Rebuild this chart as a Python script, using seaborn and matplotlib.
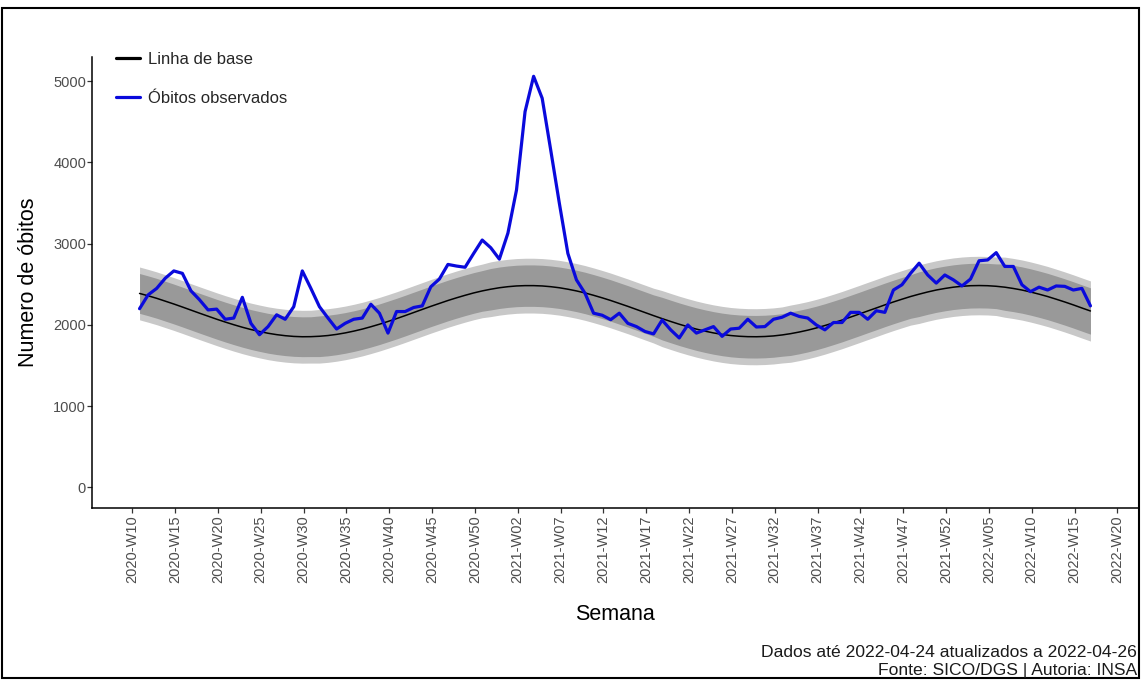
import matplotlib
matplotlib.use("Agg")
import matplotlib.pyplot as plt
from matplotlib.lines import Line2D
from matplotlib.patches import Rectangle
from datetime import datetime
import numpy as np
import pandas as pd
import seaborn as sns

# Weekly deaths, first week ends on Sunday 2020-03-08 (ISO 2020-W10)
first_week_end = "2020-03-08"

observed = [
    2200, 2370, 2450, 2575, 2665, 2635, 2420, 2310, 2185, 2195,
    2070, 2085, 2340, 2020, 1880, 1980, 2125, 2070, 2225, 2665,
    2450, 2225, 2085, 1950, 2020, 2070, 2085, 2255, 2145, 1900,
    2165, 2165, 2215, 2235, 2470, 2565, 2745, 2725, 2710, 2880,
    3045, 2950, 2810, 3130, 3660, 4625, 5060, 4790, 4150, 3500,
    2880, 2555, 2390, 2145, 2120, 2065, 2145, 2020, 1980, 1920,
    1890, 2060, 1940, 1840, 2000, 1900, 1940, 1980, 1860, 1950,
    1960, 2070, 1975, 1980, 2070, 2095, 2145, 2105, 2085, 2000,
    1940, 2030, 2030, 2155, 2155, 2070, 2175, 2155, 2430, 2495,
    2635, 2760, 2615, 2515, 2615, 2555, 2480, 2565, 2790, 2800,
    2890, 2720, 2720, 2495, 2410, 2465, 2430, 2480, 2475, 2430,
    2450, 2235,
]

baseline = [
    2388, 2359, 2328, 2293, 2258, 2221, 2183, 2145, 2108, 2071,
    2036, 2003, 1972, 1944, 1920, 1898, 1881, 1868, 1859, 1855,
    1856, 1861, 1870, 1884, 1902, 1924, 1949, 1978, 2009, 2043,
    2078, 2115, 2153, 2191, 2229, 2265, 2301, 2334, 2365, 2394,
    2419, 2440, 2458, 2471, 2480, 2484, 2484, 2480, 2471, 2458,
    2440, 2419, 2394, 2365, 2334, 2301, 2265, 2229, 2191, 2153,
    2115, 2078, 2043, 2009, 1978, 1949, 1924, 1902, 1884, 1870,
    1861, 1856, 1855, 1858, 1865, 1877, 1893, 1913, 1936, 1963,
    1993, 2026, 2060, 2097, 2134, 2172, 2209, 2247, 2283, 2317,
    2350, 2379, 2406, 2430, 2449, 2465, 2476, 2483, 2485, 2483,
    2476, 2465, 2449, 2430, 2406, 2379, 2350, 2317, 2283, 2247,
    2209, 2172,
]

# Half-widths of the inner and outer baseline bands
inner_halfwidth = [245] * 21 + [250] * 20 + [255] * 20 + [262] * 15 + [268] * 15 + [275] * 10 + [285] * 11
outer_halfwidth = [325] * 21 + [330] * 20 + [337] * 20 + [345] * 15 + [352] * 15 + [360] * 10 + [370] * 11

week_ticks = [
    "2020-W10", "2020-W15", "2020-W20", "2020-W25", "2020-W30", "2020-W35",
    "2020-W40", "2020-W45", "2020-W50", "2021-W02", "2021-W07", "2021-W12",
    "2021-W17", "2021-W22", "2021-W27", "2021-W32", "2021-W37", "2021-W42",
    "2021-W47", "2021-W52", "2022-W05", "2022-W10", "2022-W15", "2022-W20",
]
y_ticks = [0, 1000, 2000, 3000, 4000, 5000]

caption_lines = [
    "Dados até 2022-04-24 atualizados a 2022-04-26",
    "Fonte: SICO/DGS | Autoria: INSA",
]

dates = pd.date_range(first_week_end, periods=len(observed), freq="7D")
base = np.array(baseline, dtype=float)
inner = np.array(inner_halfwidth, dtype=float)
outer = np.array(outer_halfwidth, dtype=float)
df = pd.DataFrame({"semana": dates, "obitos": observed, "base": baseline})

tick_dates = [datetime.strptime(w + "-1", "%G-W%V-%u") for w in week_ticks]

sns.set_theme(style="ticks")
plt.rcParams["font.family"] = ["Liberation Sans", "DejaVu Sans"]

W, H = 1141, 680
fig = plt.figure(figsize=(W / 100, H / 100), dpi=100)
ax_left, ax_right, ax_top, ax_bottom = 92, 1138, 56.6, 508
ax = fig.add_axes([ax_left / W, 1 - ax_bottom / H,
                   (ax_right - ax_left) / W, (ax_bottom - ax_top) / H])

blue = "#0A0ADC"

ax.fill_between(dates, base - outer, base + outer, color="#C8C8C8", lw=0, zorder=1)
ax.fill_between(dates, base - inner, base + inner, color="#999999", lw=0, zorder=2)
sns.lineplot(data=df, x="semana", y="base", color="black", lw=1.1, ax=ax, zorder=3)
sns.lineplot(data=df, x="semana", y="obitos", color=blue, lw=2.3, ax=ax, zorder=4)

# axis limits with 5% padding around the data range
span = dates[-1] - dates[0]
ax.set_xlim(dates[0] - span * 0.05, dates[-1] + span * 0.05)
ax.set_ylim(-252.5, 5302.5)

ax.set_xticks(tick_dates)
ax.set_xticklabels(week_ticks, rotation=90)
ax.set_yticks(y_ticks)
ax.set_yticklabels([str(v) for v in y_ticks])
ax.tick_params(axis="both", length=3.5, width=0.9, color="#333333",
               labelcolor="#4D4D4D")
ax.tick_params(axis="x", labelsize=10.5, pad=2)
ax.tick_params(axis="y", labelsize=10.5, pad=0.8)

for side in ("top", "right"):
    ax.spines[side].set_visible(False)
for side in ("left", "bottom"):
    ax.spines[side].set_color("black")
    ax.spines[side].set_linewidth(1.1)

ax.set_xlabel("Semana", fontsize=15.5, color="black", labelpad=15)
ax.set_ylabel("Numero de óbitos", fontsize=15.5, color="black", labelpad=10)

handles = [Line2D([0], [0], color="black", lw=2.3),
           Line2D([0], [0], color=blue, lw=2.3)]
ax.legend(handles, ["Linha de base", "Óbitos observados"],
          loc="upper left", bbox_to_anchor=(116 / W, 1 - 52 / H),
          bbox_transform=fig.transFigure, frameon=False, fontsize=12,
          handlelength=1.45, handletextpad=0.45, labelspacing=1.42,
          borderpad=0, borderaxespad=0)

fig.text(1137 / W, 1 - 652.5 / H, caption_lines[0], ha="right", va="center",
         fontsize=12.6, color="#1A1A1A")
fig.text(1137 / W, 1 - 670.5 / H, caption_lines[1], ha="right", va="center",
         fontsize=12.6, color="#1A1A1A")

# frame around the whole figure
fig.patches.append(Rectangle((2 / W, 2 / H), 1 - 4 / W, 1 - 10 / H,
                             transform=fig.transFigure, fill=False,
                             edgecolor="black", lw=1.5))

fig.savefig("out.png", dpi=100)
